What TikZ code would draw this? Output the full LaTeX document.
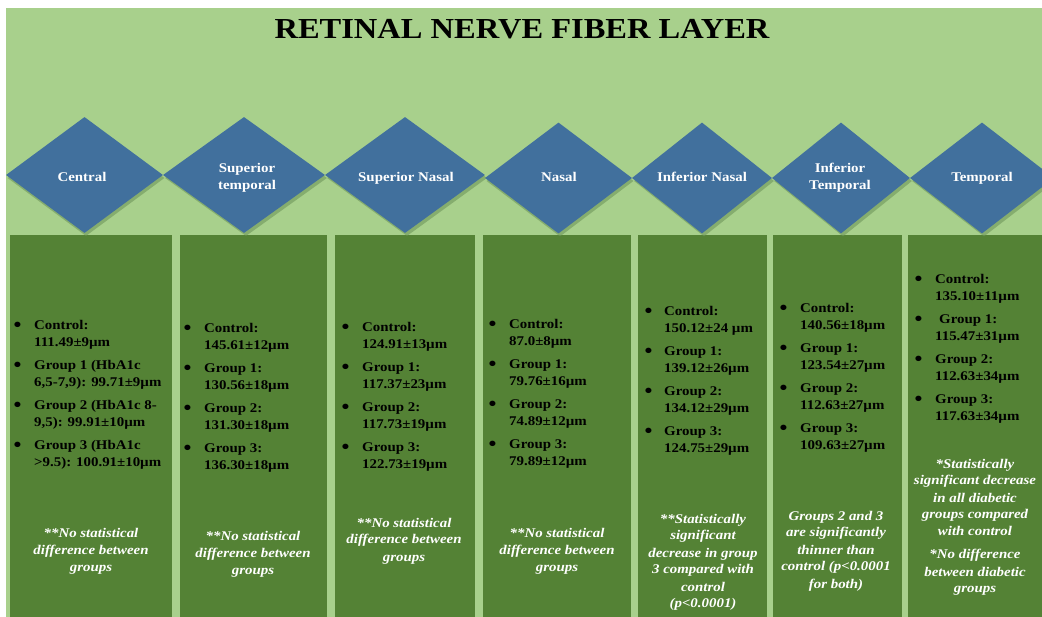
\documentclass[tikz,border=0pt]{standalone}
\usepackage{fontspec}
\setmainfont{Liberation Serif}[FakeStretch=1.12]
\usetikzlibrary{shapes.geometric}
\definecolor{lightgr}{RGB}{168,208,140}
\definecolor{darkgr}{RGB}{84,130,53}
\definecolor{diablue}{RGB}{65,112,157}
\definecolor{shadowgr}{RGB}{110,150,90}
\newcommand\bul{\raisebox{-2pt}[0pt][0pt]{\fontsize{20}{17}\selectfont\textbullet}}
\newcommand\bl[2]{\bul&#1\\&#2\\[6pt]}
\newcommand\blast[2]{\bul&#1\\&#2}
\begin{document}
\begin{tikzpicture}[x=1pt,y=-1pt,
  panel/.style={fill=darkgr,draw=none},
  dia/.style={diamond,fill=diablue,draw=none,inner sep=0pt},
  diashadow/.style={diamond,fill=shadowgr,opacity=0.6,draw=none,inner sep=0pt},
  dlabel/.style={anchor=base,text=white,font=\bfseries\fontsize{13.3}{17}\selectfont,inner sep=0pt},
  plist/.style={anchor=base west,inner sep=0pt,text=black,font=\bfseries\fontsize{13.3}{17}\selectfont},
  pnote/.style={anchor=base,inner sep=0pt,text=white,font=\bfseries\itshape\fontsize{13.3}{17}\selectfont},
  titlestyle/.style={font=\bfseries\fontsize{29}{32}\selectfont,text=black,anchor=base,inner sep=0pt}]
\useasboundingbox (0,0) rectangle (1042,617);
\fill[white] (0,0) rectangle (1042,617);
\fill[lightgr] (6,8) rectangle (1042,617);
\node[titlestyle] (title) at (522,39) {RETINAL NERVE FIBER LAYER};
% panels
\fill[panel] (10,235) rectangle (172,617);
\fill[panel] (180,235) rectangle (327,617);
\fill[panel] (335,235) rectangle (475,617);
\fill[panel] (483,235) rectangle (631,617);
\fill[panel] (638,235) rectangle (767,617);
\fill[panel] (773,235) rectangle (902,617);
\fill[panel] (908,235) rectangle (1042,617);
% diamond shadows
\node[diashadow,minimum width=157pt,minimum height=116pt] (s1) at (86,178) {};
\node[diashadow,minimum width=162pt,minimum height=116pt] (s2) at (246,178) {};
\node[diashadow,minimum width=160pt,minimum height=116pt] (s3) at (407,178) {};
\node[diashadow,minimum width=147pt,minimum height=111pt] (s4) at (560,181) {};
\node[diashadow,minimum width=140pt,minimum height=111pt] (s5) at (704,181) {};
\node[diashadow,minimum width=138pt,minimum height=111pt] (s6) at (843,181) {};
\node[diashadow,minimum width=144pt,minimum height=111pt] (s7) at (984,181) {};
% diamonds
\node[dia,minimum width=157pt,minimum height=116pt] (d1) at (84.5,175) {};
\node[dia,minimum width=162pt,minimum height=116pt] (d2) at (244,175) {};
\node[dia,minimum width=160pt,minimum height=116pt] (d3) at (405,175) {};
\node[dia,minimum width=147pt,minimum height=111pt] (d4) at (558.5,178) {};
\node[dia,minimum width=140pt,minimum height=111pt] (d5) at (702,178) {};
\node[dia,minimum width=138pt,minimum height=111pt] (d6) at (841,178) {};
\node[dia,minimum width=144pt,minimum height=111pt] (d7) at (982,178) {};
\node[dlabel] (l1) at (82,182) {Central};
\node[dlabel] (l2) at (247,173) {\begin{tabular}[t]{@{}c@{}}Superior\\temporal\end{tabular}};
\node[dlabel] (l3) at (406,182) {Superior Nasal};
\node[dlabel] (l4) at (559,182) {Nasal};
\node[dlabel] (l5) at (702,182) {Inferior Nasal};
\node[dlabel] (l6) at (840,173) {\begin{tabular}[t]{@{}c@{}}Inferior\\Temporal\end{tabular}};
\node[dlabel] (l7) at (982,182) {Temporal};
% lists
\node[plist] (p1) at (13.5,330) {\begin{tabular}[t]{@{}p{20.5pt}@{}l@{}}
\bl{Control:}{111.49±9µm}
\bl{Group 1 (HbA1c}{6,5-7,9): 99.71±9µm}
\bl{Group 2 (HbA1c 8-}{9,5): 99.91±10µm}
\blast{Group 3 (HbA1c}{>9.5): 100.91±10µm}
\end{tabular}};
\node[plist] (p2) at (183.5,333) {\begin{tabular}[t]{@{}p{20.5pt}@{}l@{}}
\bl{Control:}{145.61±12µm}
\bl{Group 1:}{130.56±18µm}
\bl{Group 2:}{131.30±18µm}
\blast{Group 3:}{136.30±18µm}
\end{tabular}};
\node[plist] (p3) at (341.5,332) {\begin{tabular}[t]{@{}p{20.5pt}@{}l@{}}
\bl{Control:}{124.91±13µm}
\bl{Group 1:}{117.37±23µm}
\bl{Group 2:}{117.73±19µm}
\blast{Group 3:}{122.73±19µm}
\end{tabular}};
\node[plist] (p4) at (488.5,329) {\begin{tabular}[t]{@{}p{20.5pt}@{}l@{}}
\bl{Control:}{87.0±8µm}
\bl{Group 1:}{79.76±16µm}
\bl{Group 2:}{74.89±12µm}
\blast{Group 3:}{79.89±12µm}
\end{tabular}};
\node[plist] (p5) at (644.5,316) {\begin{tabular}[t]{@{}p{19.5pt}@{}l@{}}
\bl{Control:}{150.12±24 µm}
\bl{Group 1:}{139.12±26µm}
\bl{Group 2:}{134.12±29µm}
\blast{Group 3:}{124.75±29µm}
\end{tabular}};
\node[plist] (p6) at (779.5,313) {\begin{tabular}[t]{@{}p{20.5pt}@{}l@{}}
\bl{Control:}{140.56±18µm}
\bl{Group 1:}{123.54±27µm}
\bl{Group 2:}{112.63±27µm}
\blast{Group 3:}{109.63±27µm}
\end{tabular}};
\node[plist] (p7) at (914.5,284) {\begin{tabular}[t]{@{}p{20.5pt}@{}l@{}}
\bl{Control:}{135.10±11µm}
\bl{\hspace{4pt}Group 1:}{115.47±31µm}
\bl{Group 2:}{112.63±34µm}
\blast{Group 3:}{117.63±34µm}
\end{tabular}};
% notes
\node[pnote] (n1) at (91,537) {\begin{tabular}[t]{@{}c@{}}**No statistical\\difference between\\groups\end{tabular}};
\node[pnote] (n2) at (253,540) {\begin{tabular}[t]{@{}c@{}}**No statistical\\difference between\\groups\end{tabular}};
\node[pnote] (n3) at (404,527) {\begin{tabular}[t]{@{}c@{}}**No statistical\\difference between\\groups\end{tabular}};
\node[pnote] (n4) at (557,537) {\begin{tabular}[t]{@{}c@{}}**No statistical\\difference between\\groups\end{tabular}};
\node[pnote] (n5) at (703,523) {\begin{tabular}[t]{@{}c@{}}**Statistically\\significant\\decrease in group\\3 compared with\\control\\(p<0.0001)\end{tabular}};
\node[pnote] (n6) at (836,520) {\begin{tabular}[t]{@{}c@{}}Groups 2 and 3\\are significantly\\thinner than\\control (p<0.0001\\for both)\end{tabular}};
\node[pnote] (n7) at (975,468) {\begin{tabular}[t]{@{}c@{}}*Statistically\\significant decrease\\in all diabetic\\groups compared\\with control\\[6pt]*No difference\\between diabetic\\groups\end{tabular}};
\end{tikzpicture}
\end{document}
